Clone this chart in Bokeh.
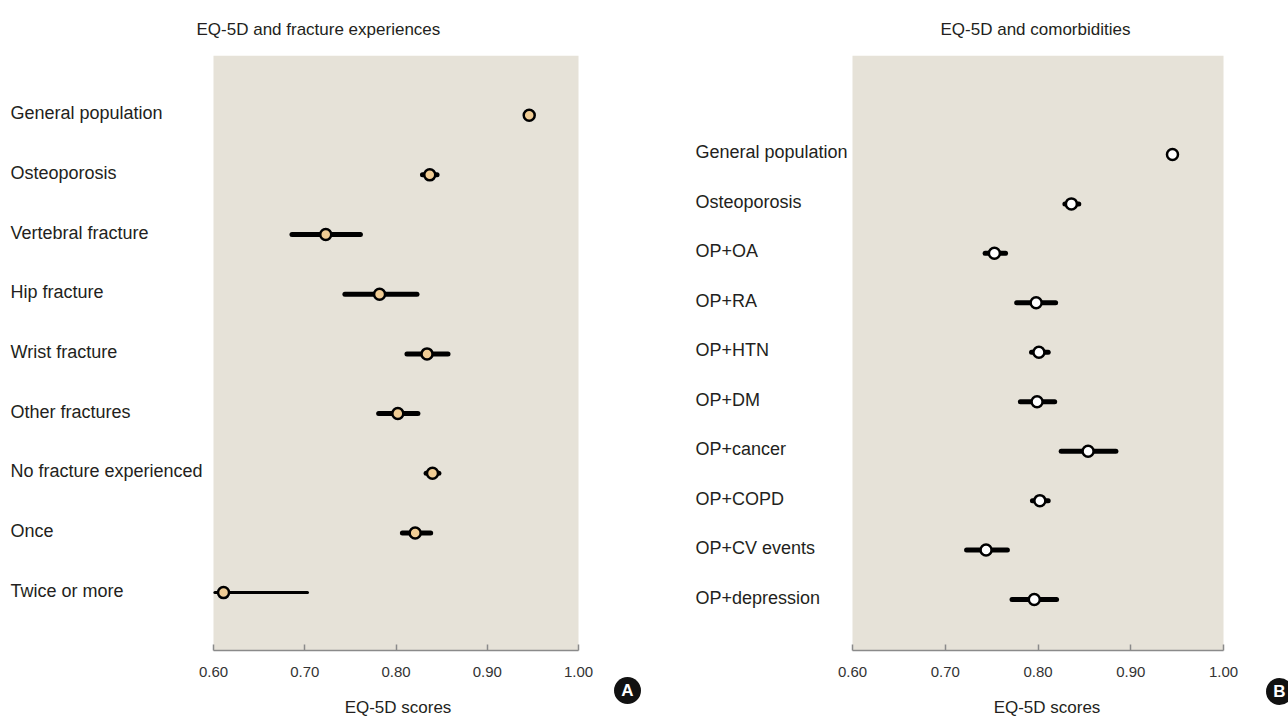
from bokeh.plotting import figure
from bokeh.models import Range1d, ColumnDataSource, FixedTicker, BoxAnnotation, Div
from bokeh.core.properties import value
from bokeh.layouts import row, column
from bokeh.embed import file_html
from bokeh.resources import INLINE

FONT = "Liberation Sans"
BEIGE = "#e6e2d8"
TEXT = "#231f20"

# ---------------- data ----------------
left_title = "EQ-5D and fracture experiences"
left_categories = ["General population", "Osteoporosis", "Vertebral fracture", "Hip fracture",
                   "Wrist fracture", "Other fractures", "No fracture experienced", "Once",
                   "Twice or more"]
left_mean = [0.946, 0.837, 0.723, 0.782, 0.834, 0.802, 0.840, 0.821, 0.611]
left_lower = [0.944, 0.829, 0.686, 0.744, 0.812, 0.781, 0.833, 0.807, 0.6015]
left_upper = [0.948, 0.845, 0.761, 0.823, 0.857, 0.824, 0.847, 0.838, 0.703]

right_title = "EQ-5D and comorbidities"
right_categories = ["General population", "Osteoporosis", "OP+OA", "OP+RA", "OP+HTN", "OP+DM",
                    "OP+cancer", "OP+COPD", "OP+CV events", "OP+depression"]
right_mean = [0.945, 0.836, 0.753, 0.798, 0.801, 0.799, 0.854, 0.802, 0.744, 0.796]
right_lower = [0.943, 0.829, 0.743, 0.777, 0.793, 0.781, 0.825, 0.794, 0.723, 0.772]
right_upper = [0.947, 0.844, 0.765, 0.819, 0.811, 0.818, 0.884, 0.811, 0.767, 0.820]

tick_values = [0.6, 0.7, 0.8, 0.9, 1.0]
tick_labels = ["0.60", "0.70", "0.80", "0.90", "1.00"]
x_title = "EQ-5D scores"
badges = ["A", "B"]

# style lists (not data)
left_ci_width = [5, 5, 5, 5, 5, 5, 5, 5, 3]
right_ci_width = [5] * 10

H = 718
XT_H = 28               # height of the strip holding the x-axis title
PH = H - XT_H           # plot height
FRAME_TOP = 55
FRAME_BOTTOM = 650
XMIN, XMAX = 0.6, 1.0


def panel(title, cats, mean, lo, hi, ci_w, marker_fill, y_top, y_bottom, width,
          px0, px1, label_px, title_offset, xtitle_center):
    # px0/px1: local pixel positions of 0.60 and 1.00; frame spans whole width
    ppu = (px1 - px0) / (XMAX - XMIN)
    x_start = XMIN - px0 / ppu
    x_end = XMAX + (width - px1) / ppu
    label_x = XMIN + (label_px - px0) / ppu

    ys = list(range(len(cats)))
    p = figure(width=width, height=PH, output_backend="svg", toolbar_location=None,
               x_range=Range1d(x_start, x_end), y_range=Range1d(y_bottom, y_top),
               y_axis_location=None, tools="",
               min_border_left=0, min_border_right=0,
               min_border_top=FRAME_TOP, min_border_bottom=PH - FRAME_BOTTOM)
    p.background_fill_color = "white"
    p.border_fill_color = "white"
    p.outline_line_color = None
    p.xgrid.visible = False
    p.ygrid.visible = False

    p.add_layout(BoxAnnotation(left=XMIN, right=XMAX, fill_color=BEIGE, fill_alpha=1.0,
                               line_color=None, level="underlay"))

    p.title.text = title
    p.title.align = "left"
    p.title.offset = title_offset
    p.title.text_font = FONT
    p.title.text_font_size = "17px"
    p.title.text_font_style = "normal"
    p.title.text_color = TEXT
    p.title.standoff = 33

    ax = p.xaxis[0]
    ax.bounds = (XMIN, XMAX)
    ax.ticker = FixedTicker(ticks=tick_values)
    ax.major_label_overrides = {v: s for v, s in zip(tick_values, tick_labels)}
    ax.axis_line_color = "#8a8a8a"
    ax.axis_line_width = 1.5
    ax.major_tick_line_color = "#8a8a8a"
    ax.major_tick_line_width = 1.5
    ax.major_tick_in = 6
    ax.major_tick_out = 0
    ax.minor_tick_line_color = None
    ax.major_label_text_font = FONT
    ax.major_label_text_font_size = "15px"
    ax.major_label_text_color = "#333333"
    ax.major_label_standoff = 16

    src = ColumnDataSource(dict(y=ys, mean=mean, lo=lo, hi=hi, w=ci_w, cat=cats,
                                lx=[label_x] * len(cats)))
    p.segment(x0="lo", x1="hi", y0="y", y1="y", source=src, line_color="black",
              line_width="w", line_cap="round")
    p.scatter(x="mean", y="y", source=src, size=11, marker="circle",
              fill_color=marker_fill, line_color="black", line_width=2.5)
    p.text(x="lx", y="y", text="cat", source=src, text_align="left",
           text_baseline="middle", text_font=value(FONT), text_font_size="18px",
           text_color=TEXT, y_offset=-2)

    xt_html = (
        f'<div style="position:relative;width:{width}px;height:{XT_H}px;">'
        f'<div style="position:absolute;left:{xtitle_center}px;top:8px;'
        'transform:translateX(-50%);white-space:nowrap;'
        f'font-family:\'Liberation Sans\',Arial,sans-serif;font-size:17px;line-height:20px;'
        f'color:{TEXT};">{x_title}</div></div>'
    )
    xt = Div(text=xt_html, width=width, height=XT_H, margin=0)
    return column(p, xt, spacing=0)


def badge(letter, width, left, top):
    html = (
        f'<div style="width:{width}px;height:{H}px;overflow:hidden;'
        f'padding-top:{top}px;padding-left:{left}px;box-sizing:border-box;">'
        '<div style="width:27px;height:27px;border-radius:50%;background:#111111;'
        'color:#ffffff;font-family:\'Liberation Sans\',Arial,sans-serif;font-weight:bold;'
        'font-size:17px;line-height:27px;text-align:center;">'
        f'{letter}</div></div>'
    )
    return Div(text=html, width=width, height=H, margin=0)


p1 = panel(left_title, left_categories, left_mean, left_lower, left_upper, left_ci_width,
           "#f0cc94", -1.0, 8.97, 600, 213, 578, 10, 196, 398)
pA = badge(badges[0], 60, 14, 677)
p2 = panel(right_title, right_categories, right_mean, right_lower, right_upper, right_ci_width,
           "white", -2.0, 10.03, 590, 192, 563, 35, 280, 387)
pB = badge(badges[1], 38, 16, 678)

layout = row(p1, pA, p2, pB, spacing=0)
open("out.html", "w").write(file_html(layout, INLINE))
